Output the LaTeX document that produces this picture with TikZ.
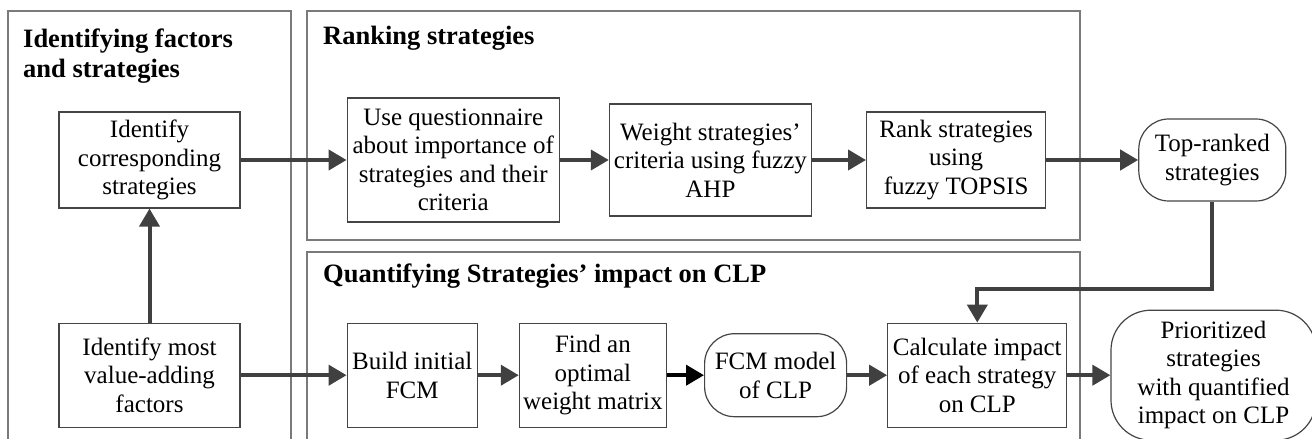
\documentclass[tikz,border=0pt]{standalone}
\usepackage{fontspec}
\setmainfont{Liberation Serif}
\usetikzlibrary{positioning,arrows.meta}
\definecolor{frame}{HTML}{7A7A7A}
\definecolor{edge}{HTML}{454545}
\definecolor{flowc}{HTML}{404040}
\tikzset{
  panel/.style={draw=frame, line width=1.6pt},
  box/.style={draw=edge, line width=1.2pt, align=center, inner xsep=2pt,
              inner ysep=3pt, font=\fontsize{25}{28.5}\selectfont},
  endbox/.style={box, rounded corners=30pt},
  title/.style={font=\fontsize{26.5}{30}\selectfont\bfseries, align=left,
              inner sep=0pt},
  flow/.style={->, draw=flowc, line width=4pt},
  >={Triangle[length=18pt,width=20pt]},
}

\begin{document}
\begin{tikzpicture}[x=1pt,y=1pt]
\useasboundingbox (0,0) rectangle (1312,439);
% panels
\draw[panel] (8,0) |- (291,428) -- (291,0);
\draw[panel] (307,199) rectangle (1080,428);
\draw[panel] (307,0) |- (1080,187) -- (1080,0);
\node[title, anchor=north west] (idtitle) at (23,410) {Identifying factors\\and strategies};
\node[title, anchor=base west] (ranktitle) at (323,394.5) {Ranking strategies};
\node[title, anchor=base west] (quanttitle) at (323,156) {Quantifying Strategies' impact on CLP};

% left column
\node[box, minimum width=181pt, minimum height=96pt] (idstrat) at (149.5,279)
  {Identify\\corresponding\\strategies};
\node[box, minimum width=181pt, minimum height=104pt, below=114pt of idstrat] (idfact)
  {Identify most\\value-adding\\factors};

% ranking row
\node[box, minimum width=212pt, minimum height=124pt, right=106pt of idstrat] (quest)
  {Use questionnaire\\about importance of\\strategies and their\\criteria};
\node[box, minimum width=202pt, minimum height=112pt, right=49pt of quest] (weight)
  {Weight strategies'\\criteria using fuzzy\\AHP};
\node[box, minimum width=179pt, minimum height=96pt, right=54pt of weight] (rank)
  {Rank strategies\\using\\fuzzy TOPSIS};
\node[endbox, minimum width=147pt, minimum height=82pt, right=92pt of rank] (top)
  {Top-ranked\\strategies};

% quantifying row
\node[box, minimum width=130pt, minimum height=104pt, right=106pt of idfact] (build)
  {Build initial\\FCM};
\node[box, minimum width=147pt, minimum height=104pt, right=41pt of build] (find)
  {Find an\\optimal\\weight matrix};
\node[endbox, minimum width=142pt, minimum height=83pt, right=37pt of find] (fcm)
  {FCM model\\of CLP};
\node[box, minimum width=179pt, minimum height=104pt, right=40pt of fcm] (calc)
  {Calculate impact\\of each strategy\\on CLP};
\node[endbox, rounded corners=40pt, minimum width=205pt, minimum height=130pt,
  right=43pt of calc] (prio)
  {Prioritized\\strategies\\with quantified\\impact on CLP};

% connectors
\draw[flow] (idfact) -- (idstrat);
\draw[flow] (idstrat.east) -- (idstrat.east -| quest.west);
\draw[flow] (quest) -- (weight);
\draw[flow] (weight) -- (rank);
\draw[flow] (rank) -- (top);
\draw[flow] (idfact) -- (build);
\draw[flow] (build) -- (find);
\draw[flow, draw=black] (find) -- (fcm);
\draw[flow] (fcm) -- (calc);
\draw[flow] (calc) -- (prio);
\draw[flow] (top.south) -- ++(0,-87) -| (calc.north);
\end{tikzpicture}
\end{document}
